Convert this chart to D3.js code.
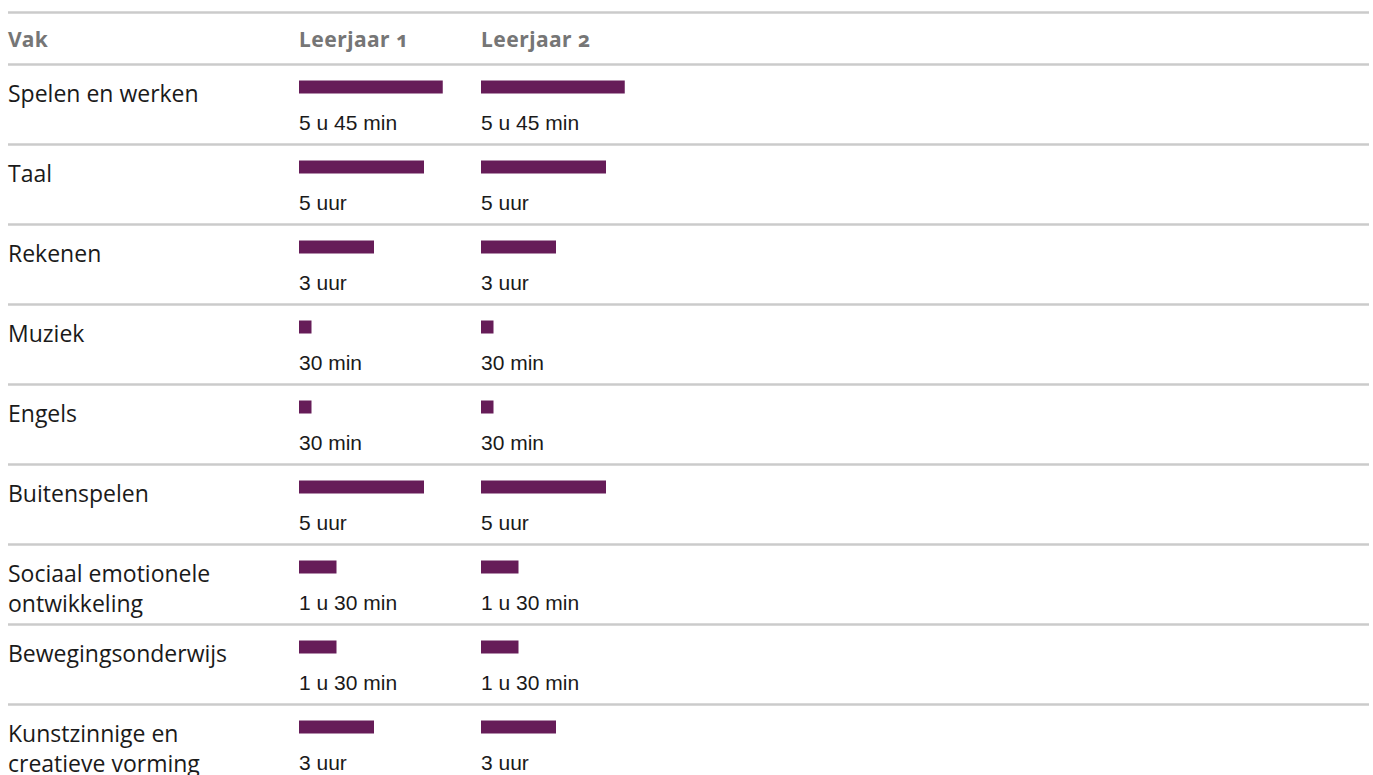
<!DOCTYPE html>
<html>
<head>
<meta charset="utf-8">
<script src="https://cdn.jsdelivr.net/npm/d3@7"></script>
<style>
  html, body { margin: 0; padding: 0; background: #fff; }
  svg { display: block; }
</style>
</head>
<body>
<svg id="chart" width="1373" height="775"></svg>
<script>
// ---- data ----
const headers = ["Vak", "Leerjaar 1", "Leerjaar 2"];
const categories = [
  ["Spelen en werken"],
  ["Taal"],
  ["Rekenen"],
  ["Muziek"],
  ["Engels"],
  ["Buitenspelen"],
  ["Sociaal emotionele", "ontwikkeling"],
  ["Bewegingsonderwijs"],
  ["Kunstzinnige en", "creatieve vorming"]
];
const leerjaar1 = [345, 300, 180, 30, 30, 300, 90, 90, 180]; // minutes
const leerjaar2 = [345, 300, 180, 30, 30, 300, 90, 90, 180]; // minutes

function fmt(min) {
  const h = Math.floor(min / 60), m = min % 60;
  if (h === 0) return m + " min";
  if (m === 0) return h + " uur";
  return h + " u " + m + " min";
}

// ---- layout ----
const svg = d3.select("#chart");
const lineX0 = 8, lineX1 = 1369;
const headerTop = 12.5, headerBottom = 64.5;
const rowH = 80;
const series = [leerjaar1, leerjaar2];

const col = d3.scalePoint().domain([0, 1]).range([299, 481]);
const x = d3.scaleLinear().domain([0, 360]).range([0, 150]);
const y = d3.scaleLinear().domain([0, categories.length]).range([headerBottom, headerBottom + rowH * categories.length]);

const gray = "#cbcbcb";

// rules
const rules = [headerTop, headerBottom].concat(d3.range(1, categories.length).map(i => y(i)));
svg.append("g").selectAll("line").data(rules).join("line")
  .attr("x1", lineX0).attr("x2", lineX1)
  .attr("y1", d => d).attr("y2", d => d)
  .attr("stroke", gray).attr("stroke-width", 2.5);

// header
const hdr = svg.append("g")
  .attr("font-family", "'Noto Sans', 'Open Sans', sans-serif")
  .attr("font-weight", "bold")
  .attr("font-size", 21)
  .attr("letter-spacing", 0.5)
  .attr("fill", "#767676")
  .style("font-variant-numeric", "oldstyle-nums");
hdr.append("text").attr("x", 8).attr("y", 47).text(headers[0]);
[0, 1].forEach(j => hdr.append("text").attr("x", col(j)).attr("y", 47).text(headers[j + 1]));

// rows
const rows = svg.append("g").selectAll("g").data(categories).join("g")
  .attr("transform", (d, i) => `translate(0,${y(i)})`);

rows.append("text")
  .attr("font-family", "'Open Sans', 'Noto Sans', sans-serif")
  .attr("font-size", 23)
  .attr("fill", "#1a1a1a")
  .selectAll("tspan").data(d => d).join("tspan")
  .attr("x", 8)
  .attr("y", (d, k) => 37 + k * 30)
  .text(d => d);

series.forEach((vals, j) => {
  rows.append("rect")
    .attr("x", col(j))
    .attr("y", 16)
    .attr("width", (d, i) => x(vals[i]))
    .attr("height", 13)
    .attr("fill", "#661c58");
  rows.append("text")
    .attr("x", col(j))
    .attr("y", 65)
    .attr("font-family", "'Liberation Sans', Arial, sans-serif")
    .attr("font-size", 21)
    .attr("fill", "#1a1a1a")
    .text((d, i) => fmt(vals[i]));
});
</script>
</body>
</html>
